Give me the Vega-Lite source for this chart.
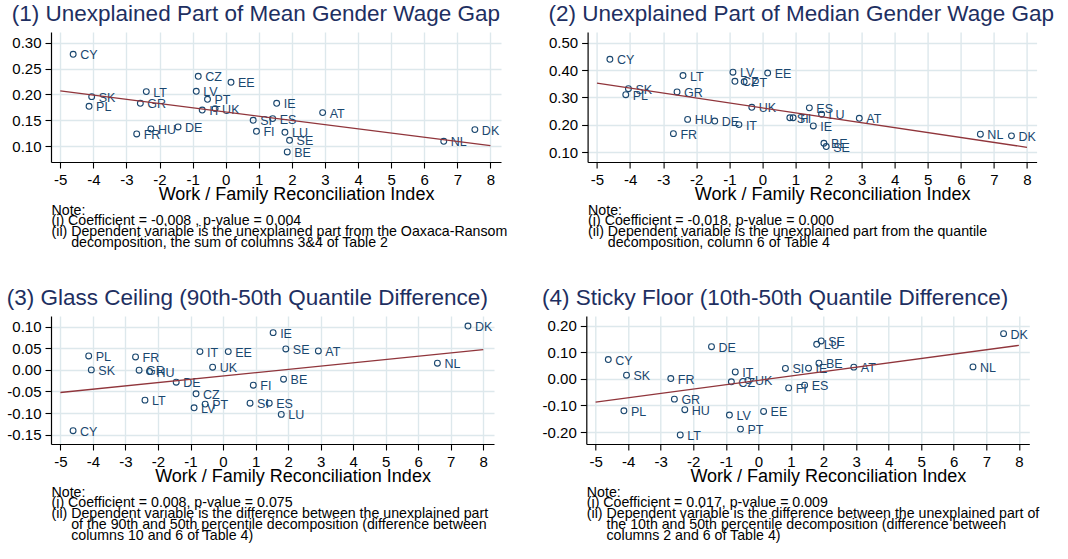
{
  "$schema": "https://vega.github.io/schema/vega-lite/v6.json",
  "background": "white",
  "padding": {"left": 6, "top": 2, "right": 5, "bottom": 5},
  "config": {
    "font": "Liberation Sans",
    "view": {"stroke": null},
    "locale": {"number": {"decimal": ".", "thousands": ",", "grouping": [3], "currency": ["$", ""], "minus": "-"}},
    "axis": {"labelFont": "Liberation Sans", "labelFontSize": 15, "labelColor": "#000000", "titleFont": "Liberation Sans", "titleFontWeight": "normal", "titleColor": "#000000", "gridColor": "#dde8ec", "gridWidth": 1.4, "domainColor": "#000000", "domainWidth": 1.2, "tickColor": "#000000", "tickWidth": 1.1, "tickSize": 6, "labelPadding": 4, "labelFlush": false, "labelOverlap": false, "grid": true},
    "axisX": {"titleFontSize": 18, "titlePadding": -2},
    "title": {"font": "Liberation Sans", "fontSize": 22.5, "fontWeight": "normal", "color": "#1e2f61", "anchor": "start", "baseline": "alphabetic", "offset": 7},
    "concat": {"spacing": 20}
  },
  "datasets": {
    "countries": [
      {"c": "CY", "x": -4.61, "mean": 0.2775, "median": 0.439, "glass": -0.1408, "sticky": 0.0725},
      {"c": "SK", "x": -4.05, "mean": 0.1958, "median": 0.332, "glass": 0.000, "sticky": 0.0137},
      {"c": "PL", "x": -4.13, "mean": 0.1772, "median": 0.310, "glass": 0.0323, "sticky": -0.120},
      {"c": "LT", "x": -2.40, "mean": 0.2055, "median": 0.380, "glass": -0.070, "sticky": -0.211},
      {"c": "GR", "x": -2.58, "mean": 0.183, "median": 0.320, "glass": -0.0008, "sticky": -0.0763},
      {"c": "FR", "x": -2.69, "mean": 0.1238, "median": 0.168, "glass": 0.030, "sticky": 0.0012},
      {"c": "HU", "x": -2.26, "mean": 0.1334, "median": 0.220, "glass": -0.0038, "sticky": -0.116},
      {"c": "DE", "x": -1.44, "mean": 0.1373, "median": 0.214, "glass": -0.0285, "sticky": 0.121},
      {"c": "CZ", "x": -0.83, "mean": 0.235, "median": 0.359, "glass": -0.0554, "sticky": -0.011},
      {"c": "LV", "x": -0.89, "mean": 0.2061, "median": 0.392, "glass": -0.0877, "sticky": -0.136},
      {"c": "IT", "x": -0.71, "mean": 0.170, "median": 0.201, "glass": 0.0423, "sticky": 0.026},
      {"c": "PT", "x": -0.55, "mean": 0.1907, "median": 0.357, "glass": -0.0792, "sticky": -0.189},
      {"c": "UK", "x": -0.32, "mean": 0.1727, "median": 0.264, "glass": 0.0062, "sticky": -0.006},
      {"c": "EE", "x": 0.16, "mean": 0.2235, "median": 0.389, "glass": 0.0423, "sticky": -0.1225},
      {"c": "SI", "x": 0.83, "mean": 0.1502, "median": 0.226, "glass": -0.077, "sticky": 0.039},
      {"c": "FI", "x": 0.93, "mean": 0.129, "median": 0.226, "glass": -0.0354, "sticky": -0.034},
      {"c": "ES", "x": 1.42, "mean": 0.1534, "median": 0.262, "glass": -0.077, "sticky": -0.024},
      {"c": "IE", "x": 1.54, "mean": 0.183, "median": 0.196, "glass": 0.0862, "sticky": 0.040},
      {"c": "LU", "x": 1.79, "mean": 0.127, "median": 0.239, "glass": -0.103, "sticky": 0.130},
      {"c": "SE", "x": 1.93, "mean": 0.1116, "median": 0.121, "glass": 0.0485, "sticky": 0.1425},
      {"c": "BE", "x": 1.86, "mean": 0.0891, "median": 0.133, "glass": -0.0215, "sticky": 0.059},
      {"c": "AT", "x": 2.93, "mean": 0.165, "median": 0.224, "glass": 0.0438, "sticky": 0.044},
      {"c": "NL", "x": 6.59, "mean": 0.1096, "median": 0.166, "glass": 0.0154, "sticky": 0.045},
      {"c": "DK", "x": 7.53, "mean": 0.1322, "median": 0.160, "glass": 0.1015, "sticky": 0.170}
    ],
    "fit": [
      {"x": -5, "mean": 0.2068, "median": 0.352, "glass": -0.0523, "sticky": -0.0875},
      {"x": 8, "mean": 0.1013, "median": 0.118, "glass": 0.0469, "sticky": 0.126}
    ]
  },
  "vconcat": [
    {
      "hconcat": [
        {
          "width": 450, "height": 130,
          "title": {"text": "(1) Unexplained Part of Mean Gender Wage Gap"},
          "layer": [
            {"data": {"name": "countries"}, "mark": {"type": "point", "shape": "circle", "filled": false, "size": 34, "strokeWidth": 1.1, "color": "#1a476f", "opacity": 1},
             "encoding": {
               "x": {"field": "x", "type": "quantitative", "scale": {"domain": [-5.28, 8.32], "nice": false, "zero": false}, "axis": {"orient": "bottom", "values": [-5, -4, -3, -2, -1, 0, 1, 2, 3, 4, 5, 6, 7, 8], "format": "d", "title": "Work / Family Reconciliation Index", "titleX": 245}},
               "y": {"field": "mean", "type": "quantitative", "scale": {"domain": [0.0697, 0.3205], "nice": false, "zero": false}, "axis": {"values": [0.1, 0.15, 0.2, 0.25, 0.3], "format": ".2f", "title": null}}
             }},
            {"data": {"name": "countries"}, "mark": {"type": "text", "align": "left", "baseline": "middle", "dx": 7, "dy": 1, "fontSize": 12.5, "color": "#1a476f"},
             "encoding": {
               "x": {"field": "x", "type": "quantitative", "scale": {"domain": [-5.28, 8.32], "nice": false, "zero": false}, "axis": null},
               "y": {"field": "mean", "type": "quantitative", "scale": {"domain": [0.0697, 0.3205], "nice": false, "zero": false}, "axis": {"values": [0.1, 0.15, 0.2, 0.25, 0.3], "format": ".2f", "title": null}},
               "text": {"field": "c"}
             }},
            {"data": {"name": "fit"}, "mark": {"type": "line", "color": "#90353b", "strokeWidth": 1.3},
             "encoding": {
               "x": {"field": "x", "type": "quantitative", "scale": {"domain": [-5.28, 8.32], "nice": false, "zero": false}, "axis": {"orient": "bottom", "offset": 41, "grid": false, "domain": false, "ticks": false, "labels": false, "titleAnchor": "start", "titleAlign": "left", "titleBaseline": "top", "titlePadding": 0, "titleFontSize": 14.2, "titleLineHeight": 10.8, "title": ["Note:", "(i) Coefficient = -0.008 , p-value = 0.004", "(ii) Dependent variable is the unexplained part from the Oaxaca-Ransom", "\u200b\u00a0\u00a0\u00a0\u00a0\u00a0decomposition, the sum of columns 3&4 of Table 2"]}},
               "y": {"field": "mean", "type": "quantitative", "scale": {"domain": [0.0697, 0.3205], "nice": false, "zero": false}, "axis": {"values": [0.1, 0.15, 0.2, 0.25, 0.3], "format": ".2f", "title": null}}
             }}
          ],
          "resolve": {"scale": {"x": "independent"}, "axis": {"x": "independent"}}
        },
        {
          "width": 449, "height": 130,
          "title": {"text": "(2) Unexplained Part of Median Gender Wage Gap"},
          "layer": [
            {"data": {"name": "countries"}, "mark": {"type": "point", "shape": "circle", "filled": false, "size": 34, "strokeWidth": 1.1, "color": "#1a476f", "opacity": 1},
             "encoding": {
               "x": {"field": "x", "type": "quantitative", "scale": {"domain": [-5.284, 8.29], "nice": false, "zero": false}, "axis": {"orient": "bottom", "values": [-5, -4, -3, -2, -1, 0, 1, 2, 3, 4, 5, 6, 7, 8], "format": "d", "title": "Work / Family Reconciliation Index", "titleX": 244.5}},
               "y": {"field": "median", "type": "quantitative", "scale": {"domain": [0.0646, 0.5387], "nice": false, "zero": false}, "axis": {"values": [0.1, 0.2, 0.3, 0.4, 0.5], "format": ".2f", "title": null}}
             }},
            {"data": {"name": "countries"}, "mark": {"type": "text", "align": "left", "baseline": "middle", "dx": 7, "dy": 1, "fontSize": 12.5, "color": "#1a476f"},
             "encoding": {
               "x": {"field": "x", "type": "quantitative", "scale": {"domain": [-5.284, 8.29], "nice": false, "zero": false}, "axis": null},
               "y": {"field": "median", "type": "quantitative", "scale": {"domain": [0.0646, 0.5387], "nice": false, "zero": false}, "axis": {"values": [0.1, 0.2, 0.3, 0.4, 0.5], "format": ".2f", "title": null}},
               "text": {"field": "c"}
             }},
            {"data": {"name": "fit"}, "mark": {"type": "line", "color": "#90353b", "strokeWidth": 1.3},
             "encoding": {
               "x": {"field": "x", "type": "quantitative", "scale": {"domain": [-5.284, 8.29], "nice": false, "zero": false}, "axis": {"orient": "bottom", "offset": 41, "grid": false, "domain": false, "ticks": false, "labels": false, "titleAnchor": "start", "titleAlign": "left", "titleBaseline": "top", "titlePadding": 0, "titleFontSize": 14.2, "titleLineHeight": 10.8, "title": ["Note:", "(i) Coefficient = -0.018, p-value = 0.000", "(ii) Dependent variable is the unexplained part from the quantile", "\u200b\u00a0\u00a0\u00a0\u00a0\u00a0decomposition, column 6 of Table 4"]}},
               "y": {"field": "median", "type": "quantitative", "scale": {"domain": [0.0646, 0.5387], "nice": false, "zero": false}, "axis": {"values": [0.1, 0.2, 0.3, 0.4, 0.5], "format": ".2f", "title": null}}
             }}
          ],
          "resolve": {"scale": {"x": "independent"}, "axis": {"x": "independent"}}
        }
      ],
      "bounds": "flush",
      "spacing": 86.6
    },
    {
      "hconcat": [
        {
          "width": 443, "height": 128,
          "title": {"text": "(3) Glass Ceiling (90th-50th Quantile Difference)"},
          "layer": [
            {"data": {"name": "countries"}, "mark": {"type": "point", "shape": "circle", "filled": false, "size": 34, "strokeWidth": 1.1, "color": "#1a476f", "opacity": 1},
             "encoding": {
               "x": {"field": "x", "type": "quantitative", "scale": {"domain": [-5.289, 8.33], "nice": false, "zero": false}, "axis": {"orient": "bottom", "values": [-5, -4, -3, -2, -1, 0, 1, 2, 3, 4, 5, 6, 7, 8], "format": "d", "title": "Work / Family Reconciliation Index", "titleX": 241.5}},
               "y": {"field": "glass", "type": "quantitative", "scale": {"domain": [-0.1715, 0.1247], "nice": false, "zero": false}, "axis": {"values": [-0.15, -0.1, -0.05, 0, 0.05, 0.1], "format": ".2f", "title": null}}
             }},
            {"data": {"name": "countries"}, "mark": {"type": "text", "align": "left", "baseline": "middle", "dx": 7, "dy": 1, "fontSize": 12.5, "color": "#1a476f"},
             "encoding": {
               "x": {"field": "x", "type": "quantitative", "scale": {"domain": [-5.289, 8.33], "nice": false, "zero": false}, "axis": null},
               "y": {"field": "glass", "type": "quantitative", "scale": {"domain": [-0.1715, 0.1247], "nice": false, "zero": false}, "axis": {"values": [-0.15, -0.1, -0.05, 0, 0.05, 0.1], "format": ".2f", "title": null}},
               "text": {"field": "c"}
             }},
            {"data": {"name": "fit"}, "mark": {"type": "line", "color": "#90353b", "strokeWidth": 1.3},
             "encoding": {
               "x": {"field": "x", "type": "quantitative", "scale": {"domain": [-5.289, 8.33], "nice": false, "zero": false}, "axis": {"orient": "bottom", "offset": 41, "grid": false, "domain": false, "ticks": false, "labels": false, "titleAnchor": "start", "titleAlign": "left", "titleBaseline": "top", "titlePadding": 0, "titleFontSize": 14.2, "titleLineHeight": 10.8, "title": ["Note:", "(i) Coefficient = 0.008, p-value = 0.075", "(ii) Dependent variable is the difference between the unexplained part", "\u200b\u00a0\u00a0\u00a0\u00a0\u00a0of the 90th and 50th percentile decomposition (difference between", "\u200b\u00a0\u00a0\u00a0\u00a0\u00a0columns 10 and 6 of Table 4)"]}},
               "y": {"field": "glass", "type": "quantitative", "scale": {"domain": [-0.1715, 0.1247], "nice": false, "zero": false}, "axis": {"values": [-0.15, -0.1, -0.05, 0, 0.05, 0.1], "format": ".2f", "title": null}}
             }}
          ],
          "resolve": {"scale": {"x": "independent"}, "axis": {"x": "independent"}}
        },
        {
          "width": 443, "height": 128,
          "title": {"text": "(4) Sticky Floor (10th-50th Quantile Difference)"},
          "layer": [
            {"data": {"name": "countries"}, "mark": {"type": "point", "shape": "circle", "filled": false, "size": 34, "strokeWidth": 1.1, "color": "#1a476f", "opacity": 1},
             "encoding": {
               "x": {"field": "x", "type": "quantitative", "scale": {"domain": [-5.285, 8.32], "nice": false, "zero": false}, "axis": {"orient": "bottom", "values": [-5, -4, -3, -2, -1, 0, 1, 2, 3, 4, 5, 6, 7, 8], "format": "d", "title": "Work / Family Reconciliation Index", "titleX": 241.5}},
               "y": {"field": "sticky", "type": "quantitative", "scale": {"domain": [-0.245, 0.2364], "nice": false, "zero": false}, "axis": {"values": [-0.2, -0.1, 0, 0.1, 0.2], "format": ".2f", "title": null}}
             }},
            {"data": {"name": "countries"}, "mark": {"type": "text", "align": "left", "baseline": "middle", "dx": 7, "dy": 1, "fontSize": 12.5, "color": "#1a476f"},
             "encoding": {
               "x": {"field": "x", "type": "quantitative", "scale": {"domain": [-5.285, 8.32], "nice": false, "zero": false}, "axis": null},
               "y": {"field": "sticky", "type": "quantitative", "scale": {"domain": [-0.245, 0.2364], "nice": false, "zero": false}, "axis": {"values": [-0.2, -0.1, 0, 0.1, 0.2], "format": ".2f", "title": null}},
               "text": {"field": "c"}
             }},
            {"data": {"name": "fit"}, "mark": {"type": "line", "color": "#90353b", "strokeWidth": 1.3},
             "encoding": {
               "x": {"field": "x", "type": "quantitative", "scale": {"domain": [-5.285, 8.32], "nice": false, "zero": false}, "axis": {"orient": "bottom", "offset": 41, "grid": false, "domain": false, "ticks": false, "labels": false, "titleAnchor": "start", "titleAlign": "left", "titleBaseline": "top", "titlePadding": 0, "titleFontSize": 14.2, "titleLineHeight": 10.8, "title": ["Note:", "(i) Coefficient = 0.017, p-value = 0.009", "(ii) Dependent variable is the difference between the unexplained part of", "\u200b\u00a0\u00a0\u00a0\u00a0\u00a0the 10th and 50th percentile decomposition (difference between", "\u200b\u00a0\u00a0\u00a0\u00a0\u00a0columns 2 and 6 of Table 4)"]}},
               "y": {"field": "sticky", "type": "quantitative", "scale": {"domain": [-0.245, 0.2364], "nice": false, "zero": false}, "axis": {"values": [-0.2, -0.1, 0, 0.1, 0.2], "format": ".2f", "title": null}}
             }}
          ],
          "resolve": {"scale": {"x": "independent"}, "axis": {"x": "independent"}}
        }
      ],
      "bounds": "flush",
      "spacing": 92.3
    }
  ],
  "spacing": 36
}
